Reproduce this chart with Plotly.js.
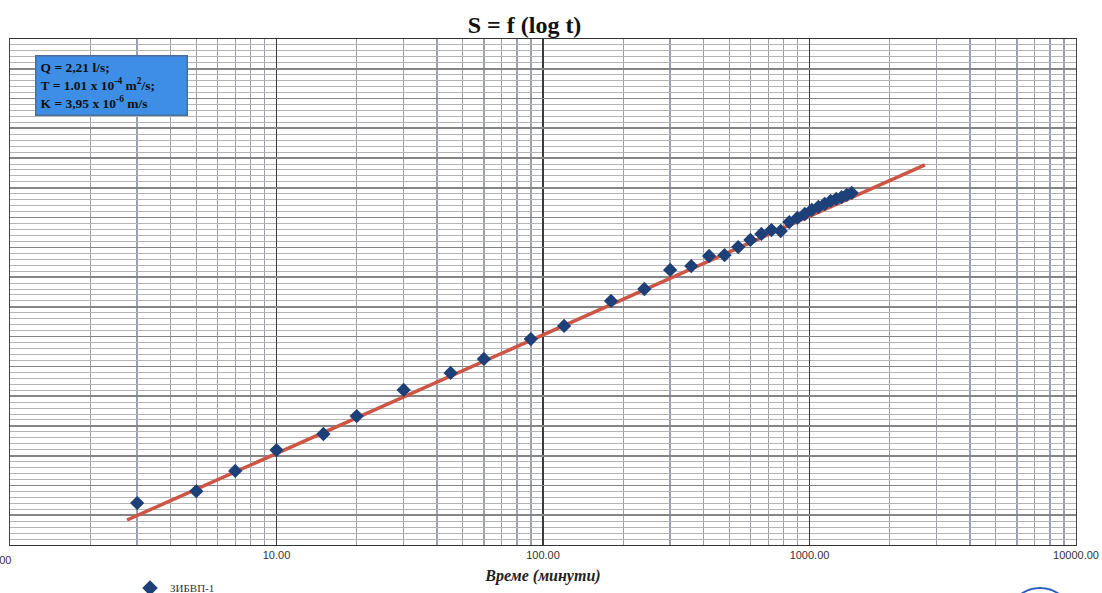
<!DOCTYPE html>
<html>
<head>
<meta charset="utf-8">
<script src="https://cdn.plot.ly/plotly-3.0.1.min.js"></script>
<style>html,body{margin:0;padding:0;background:#fff;}#chart{width:1102px;height:593px;}</style>
</head>
<body>
<div id="chart"></div>
<script>
// Measured data: time (minutes) and drawdown S
const timeMin = [3, 5, 7, 10, 15, 20, 30, 45, 60, 90, 120, 180, 240, 300, 360, 420, 480, 540, 600, 660, 720, 780, 840, 900, 960, 1020, 1080, 1140, 1200, 1260, 1320, 1380, 1440];
const drawdown = [1.41, 1.81, 2.49, 3.19, 3.73, 4.33, 5.21, 5.78, 6.25, 6.92, 7.36, 8.20, 8.60, 9.24, 9.37, 9.71, 9.74, 10.01, 10.25, 10.45, 10.58, 10.55, 10.85, 10.99, 11.12, 11.26, 11.36, 11.46, 11.56, 11.63, 11.69, 11.76, 11.83];
// Fitted straight line (semi-log) end points
const fitTime = [2.75, 2712];
const fitS = [0.84, 12.77];
const seriesName = 'ЗИБВП-1';
const xTickVals = [10, 100, 1000, 10000];
const xTickText = ['10.00', '100.00', '1000.00', '10000.00'];
const firstTickText = '1.00';
const infoLines = ['Q = 2,21 l/s;', 'T = 1.01 x 10<sup>-4</sup> m<sup>2</sup>/s;', 'K = 3,95 x 10<sup>-6</sup> m/s'];

const traces = [
  {
    x: fitTime, y: fitS, mode: 'lines', type: 'scatter',
    line: {color: '#cc5544', width: 3.5}, showlegend: false, hoverinfo: 'skip'
  },
  {
    x: timeMin, y: drawdown, mode: 'markers', type: 'scatter', name: seriesName,
    marker: {symbol: 'diamond', size: 11, color: '#1d4079'}
  }
];

const layout = {
  width: 1102, height: 593,
  margin: {l: 10, r: 26, t: 39, b: 48, autoexpand: false},
  paper_bgcolor: '#ffffff', plot_bgcolor: '#ffffff',
  title: {
    text: '<b>S = f (log t)</b>',
    font: {family: 'Liberation Serif, Times New Roman, serif', size: 24, color: '#111'},
    x: 0.476, xanchor: 'center', y: 0.958, yanchor: 'middle'
  },
  xaxis: {
    type: 'log', range: [0, 4], automargin: false,
    tickvals: xTickVals, ticktext: xTickText,
    tickfont: {family: 'Liberation Sans, Arial, sans-serif', size: 11, color: '#333'},
    ticks: '', ticklen: 0,
    showgrid: true, gridcolor: '#3a3a3a', gridwidth: 1.5,
    minor: {dtick: 'D1', showgrid: true, gridcolor: '#9c9fb2', gridwidth: 1.4, ticks: ''},
    showline: true, linecolor: '#333', linewidth: 1.2, mirror: true,
    zeroline: false,
    title: {
      text: '<b><i>Време (минути)</i></b>',
      font: {family: 'Liberation Serif, Times New Roman, serif', size: 16, color: '#222'},
      standoff: 9
    }
  },
  yaxis: {
    range: [0, 17], dtick: 1, automargin: false,
    showticklabels: false, ticks: '',
    showgrid: true, gridcolor: '#858585', gridwidth: 1.7,
    minor: {dtick: 0.2, showgrid: true, gridcolor: '#b4b4b4', gridwidth: 1},
    showline: true, linecolor: '#444', linewidth: 1.2, mirror: true,
    zeroline: false
  },
  showlegend: true,
  legend: {
    orientation: 'h', x: 0.1126, xanchor: 'left', y: -0.085, yanchor: 'middle',
    font: {family: 'Liberation Serif, Times New Roman, serif', size: 11, color: '#333'},
    itemwidth: 30, itemsizing: 'constant', bgcolor: 'rgba(0,0,0,0)'
  },
  annotations: [
    {
      xref: 'paper', yref: 'paper',
      x: (35 - 10) / 1066, y: (545 - 55) / 506, xanchor: 'left', yanchor: 'top',
      text: '<b>' + infoLines.join('<br>') + '</b>',
      align: 'left', showarrow: false,
      font: {family: 'Liberation Serif, Times New Roman, serif', size: 13.5, color: '#111'},
      bgcolor: '#3d8ee4', bordercolor: '#4a6f9a', borderwidth: 1.5,
      borderpad: 4, width: 142, height: 50, valign: 'middle'
    },
    {
      xref: 'paper', yref: 'paper', x: -0.0085, y: -0.03, xanchor: 'center', yanchor: 'middle',
      text: firstTickText, showarrow: false,
      font: {family: 'Liberation Sans, Arial, sans-serif', size: 11, color: '#333'}
    }
  ],
  shapes: [
    {
      type: 'circle', xref: 'paper', yref: 'paper',
      x0: (1008 - 10) / 1066, x1: (1072 - 10) / 1066,
      y0: (545 - 650) / 506, y1: (545 - 588) / 506,
      line: {color: '#2b5fc4', width: 2}, layer: 'above'
    }
  ]
};

Plotly.newPlot('chart', traces, layout, {displayModeBar: false, staticPlot: true});
</script>
</body>
</html>
